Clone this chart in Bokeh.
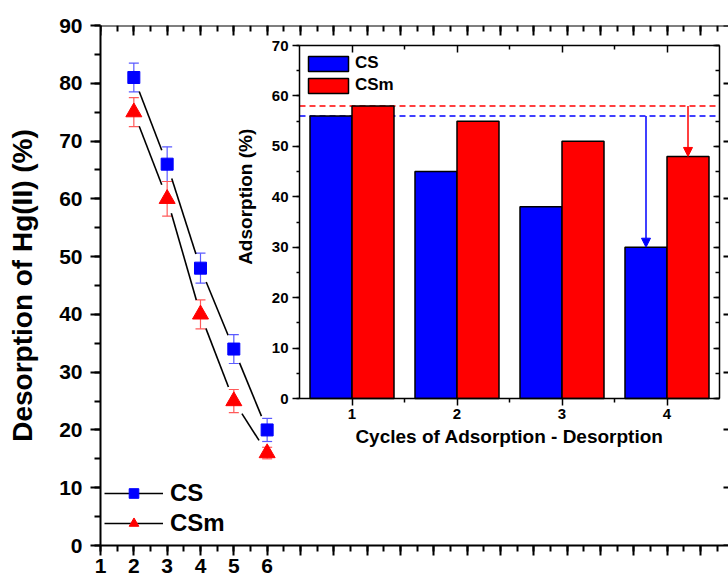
import numpy as np
from bokeh.plotting import figure
from bokeh.models import (Range1d, LinearAxis, SingleIntervalTicker, FixedTicker,
                          ColumnDataSource, Whisker, TeeHead, Legend, LegendItem,
                          Arrow, NormalHead, Label, CustomLabelingPolicy)
from bokeh.embed import file_html
from bokeh.resources import INLINE

# Desorption of Hg(II) (%) against cycle number
cycles = [2, 3, 4, 5, 6]
cs_desorption = [81, 66, 48, 34, 20]
cs_error = [2.5, 3.0, 2.6, 2.5, 2.0]
csm_desorption = [75, 60, 40, 25, 16]
csm_error = [2.5, 3.0, 2.5, 2.0, 1.0]
x_tick_labels = ["1", "2", "3", "4", "5", "6"]

# Adsorption (%) for each adsorption-desorption cycle
ads_cycles = [1, 2, 3, 4]
cs_adsorption = [56, 45, 38, 30]
csm_adsorption = [58, 55, 51, 48]

FONT = "Liberation Sans"
BLUE = "#0000ff"
RED = "#ff0000"

# ---- page / frame geometry (pixels) ----
W, H = 728, 582
FL, FT, FB, FR = 100, 25, 545, 728          # main plot frame
X_UNIT = 33.33                              # px per cycle on the main x axis
IL, IT, IR, IB = 299, 45, 719, 398          # inset frame inside the main frame
IX0, IX1, IY0, IY1 = 0.5, 4.5, 0, 70        # inset data window
Y_MAX = 90

x_end = 1 + (FR - FL) / X_UNIT
kx = (IR - IL) / (IX1 - IX0)
ky = (IB - IT) / (IY1 - IY0)

p = figure(width=W, height=H, output_backend="svg", toolbar_location=None,
           x_range=Range1d(1, x_end), y_range=Range1d(0, Y_MAX),
           min_border_left=FL, min_border_top=FT, min_border_bottom=H - FB,
           min_border_right=W - FR)
p.outline_line_color = None
p.xgrid.visible = False
p.ygrid.visible = False
p.background_fill_color = "white"
p.border_fill_color = "white"

# extra ranges that place the bar chart in its own box
p.extra_x_ranges = {"ix": Range1d(IX0 - (IL - FL) / kx, IX1 + (FR - IR) / kx)}
p.extra_y_ranges = {"iy": Range1d(IY0 - (FB - IB) / ky, IY1 + (IT - FT) / ky)}

# label policies: show none, or only the first n tick labels
no_labels = CustomLabelingPolicy(code="""
    for (let i = 0; i < indices.size; i++) indices.unset(i)
    return indices
""")
first_n = CustomLabelingPolicy(args=dict(n=len(x_tick_labels)), code="""
    for (let i = 0; i < indices.size; i++) if (i >= n) indices.unset(i)
    return indices
""")


def bold_labels(ax, size):
    ax.major_label_text_font = FONT
    ax.major_label_text_font_style = "bold"
    ax.major_label_text_font_size = size
    ax.major_label_text_color = "black"


def line_style(ax, lw):
    ax.axis_line_width = lw
    ax.major_tick_line_width = lw
    ax.minor_tick_line_width = lw
    ax.axis_line_color = "black"
    ax.major_tick_line_color = "black"
    ax.minor_tick_line_color = "black"


def unlabeled(ax):
    ax.major_label_policy = no_labels
    ax.major_label_text_font_size = "1px"
    ax.major_label_standoff = 0


# ---- main axes ----
main_y = p.left[0]
main_x = p.below[0]

main_y.ticker = SingleIntervalTicker(interval=10, num_minor_ticks=2)
main_y.major_tick_out, main_y.major_tick_in = 10, 0
main_y.minor_tick_out, main_y.minor_tick_in = 6, 0
main_y.major_label_standoff = 8
line_style(main_y, 2)
bold_labels(main_y, "21px")
main_y.axis_label = "Desorption of Hg(II) (%)"
main_y.axis_label_text_font = FONT
main_y.axis_label_text_font_style = "bold"
main_y.axis_label_text_font_size = "28px"
main_y.axis_label_text_color = "black"
main_y.axis_label_standoff = 18

main_x.ticker = SingleIntervalTicker(interval=1, num_minor_ticks=2)
main_x.major_tick_out, main_x.major_tick_in = 10, 0
main_x.minor_tick_out, main_x.minor_tick_in = 6, 0
main_x.major_label_standoff = 3
main_x.major_label_policy = first_n
line_style(main_x, 2)
bold_labels(main_x, "21px")
main_x.major_label_overrides = {i + 1: lab for i, lab in enumerate(x_tick_labels)}

# mirrored top and right axes, pinned to the frame edges
top_ax = LinearAxis(fixed_location=Y_MAX,
                    ticker=SingleIntervalTicker(interval=1, num_minor_ticks=2),
                    major_tick_in=10, major_tick_out=0, minor_tick_in=6, minor_tick_out=0)
line_style(top_ax, 2)
unlabeled(top_ax)
p.add_layout(top_ax, "above")

right_ax = LinearAxis(fixed_location=x_end,
                      ticker=SingleIntervalTicker(interval=10, num_minor_ticks=2),
                      major_tick_in=5, major_tick_out=0, minor_tick_in=0, minor_tick_out=0)
line_style(right_ax, 2)
unlabeled(right_ax)
right_ax.axis_line_color = None
p.add_layout(right_ax, "right")

# ---- desorption curves ----
sx = (FR - FL) / (x_end - 1)
sy = (FB - FT) / float(Y_MAX)


def gapped_segments(xs, ys, gap=15):
    x0, y0, x1, y1 = [], [], [], []
    for i in range(len(xs) - 1):
        dx, dy = xs[i + 1] - xs[i], ys[i + 1] - ys[i]
        length = np.hypot(dx * sx, dy * sy)
        f = gap / length
        x0.append(xs[i] + f * dx)
        y0.append(ys[i] + f * dy)
        x1.append(xs[i + 1] - f * dx)
        y1.append(ys[i + 1] - f * dy)
    return x0, y0, x1, y1


renderers = {}
for name, vals, errs, color, bar_color, marker, size in [
        ("CS", cs_desorption, cs_error, BLUE, "#5a5aff", "square", 12),
        ("CSm", csm_desorption, csm_error, RED, "#ff5a5a", "triangle", 16)]:
    x0, y0, x1, y1 = gapped_segments(cycles, vals)
    seg = p.segment(x0=x0, y0=y0, x1=x1, y1=y1, line_color="black", line_width=1.6)
    src = ColumnDataSource(dict(x=cycles, y=vals,
                                upper=[v + e for v, e in zip(vals, errs)],
                                lower=[v - e for v, e in zip(vals, errs)]))
    wh = Whisker(source=src, base="x", upper="upper", lower="lower",
                 line_color=bar_color, line_width=1.2,
                 upper_head=TeeHead(size=10, line_color=bar_color, line_width=1.2),
                 lower_head=TeeHead(size=10, line_color=bar_color, line_width=1.2))
    p.add_layout(wh)
    sc = p.scatter("x", "y", source=src, marker=marker, size=size,
                   fill_color=color, line_color=color)
    renderers[name] = (seg, sc)

main_legend = Legend(items=[LegendItem(label=k, renderers=list(v)) for k, v in renderers.items()],
                     location=(4, 8), glyph_width=59, glyph_height=24, label_height=24,
                     label_standoff=7, spacing=2, padding=0, margin=0,
                     label_text_font=FONT, label_text_font_style="bold",
                     label_text_font_size="24px", label_text_color="black",
                     border_line_color=None, background_fill_alpha=0)
p.add_layout(main_legend)

# ---- adsorption bar chart ----
inset = dict(x_range_name="ix", y_range_name="iy")
# reference levels of the first cycle
p.segment(x0=[IX0], x1=[IX1], y0=[cs_adsorption[0]], y1=[cs_adsorption[0]],
          line_color=BLUE, line_width=1.5, line_dash="6 4", **inset)
p.segment(x0=[IX0], x1=[IX1], y0=[csm_adsorption[0]], y1=[csm_adsorption[0]],
          line_color=RED, line_width=1.5, line_dash="6 4", **inset)

bar_w = 0.4
vb_cs = p.vbar(x=[c - bar_w / 2 for c in ads_cycles], top=cs_adsorption, width=bar_w,
               fill_color=BLUE, line_color="black", line_width=1.5, **inset)
vb_csm = p.vbar(x=[c + bar_w / 2 for c in ads_cycles], top=csm_adsorption, width=bar_w,
                fill_color=RED, line_color="black", line_width=1.5, **inset)

for vals, color, off in [(cs_adsorption, BLUE, -bar_w / 2), (csm_adsorption, RED, bar_w / 2)]:
    xa = ads_cycles[-1] + off
    p.add_layout(Arrow(x_start=xa, y_start=vals[0], x_end=xa, y_end=vals[-1],
                       line_color=color, line_width=1.5,
                       end=NormalHead(size=9, fill_color=color, line_color=color),
                       **inset))

inset_legend = Legend(items=[LegendItem(label="CS", renderers=[vb_cs]),
                             LegendItem(label="CSm", renderers=[vb_csm])],
                      location=(203, 450), glyph_width=50, glyph_height=19, label_height=19,
                      label_standoff=2, spacing=2, padding=0, margin=0,
                      label_text_font=FONT, label_text_font_style="bold",
                      label_text_font_size="17px", label_text_color="black",
                      border_line_color=None, background_fill_alpha=0)
p.add_layout(inset_legend)

cat_ticker = FixedTicker(ticks=ads_cycles, minor_ticks=[1.5, 2.5, 3.5])
val_ticker = SingleIntervalTicker(interval=10, num_minor_ticks=2)

ib = LinearAxis(fixed_location=IY0, bounds=(IX0, IX1), ticker=cat_ticker,
                major_tick_out=7, major_tick_in=0, minor_tick_out=4, minor_tick_in=0,
                major_label_standoff=3, **inset)
line_style(ib, 1.5)
bold_labels(ib, "15px")
ib.axis_label = "Cycles of Adsorption - Desorption"
ib.axis_label_text_font = FONT
ib.axis_label_text_font_style = "bold"
ib.axis_label_text_font_size = "19px"
ib.axis_label_text_color = "black"
ib.axis_label_standoff = 4
p.add_layout(ib, "below")

il = LinearAxis(fixed_location=IX0, bounds=(IY0, IY1), ticker=val_ticker,
                major_tick_out=7, major_tick_in=0, minor_tick_out=3, minor_tick_in=0,
                major_label_standoff=4, **inset)
line_style(il, 1.5)
bold_labels(il, "15px")
p.add_layout(il, "left")

it = LinearAxis(fixed_location=IY1, bounds=(IX0, IX1), ticker=cat_ticker,
                major_tick_in=7, major_tick_out=0, minor_tick_in=4, minor_tick_out=0, **inset)
line_style(it, 1.5)
unlabeled(it)
p.add_layout(it, "above")

ir = LinearAxis(fixed_location=IX1, bounds=(IY0, IY1), ticker=val_ticker,
                major_tick_in=6, major_tick_out=0, minor_tick_in=4, minor_tick_out=0, **inset)
line_style(ir, 1.5)
unlabeled(ir)
p.add_layout(ir, "right")

p.add_layout(Label(x=IX0 - 54 / kx, y=40, text="Adsorption (%)", angle=np.pi / 2,
                   text_align="center", text_baseline="middle", text_font=FONT,
                   text_font_style="bold", text_font_size="19px", text_color="black",
                   **inset))

open("out.html", "w").write(file_html(p, INLINE))
